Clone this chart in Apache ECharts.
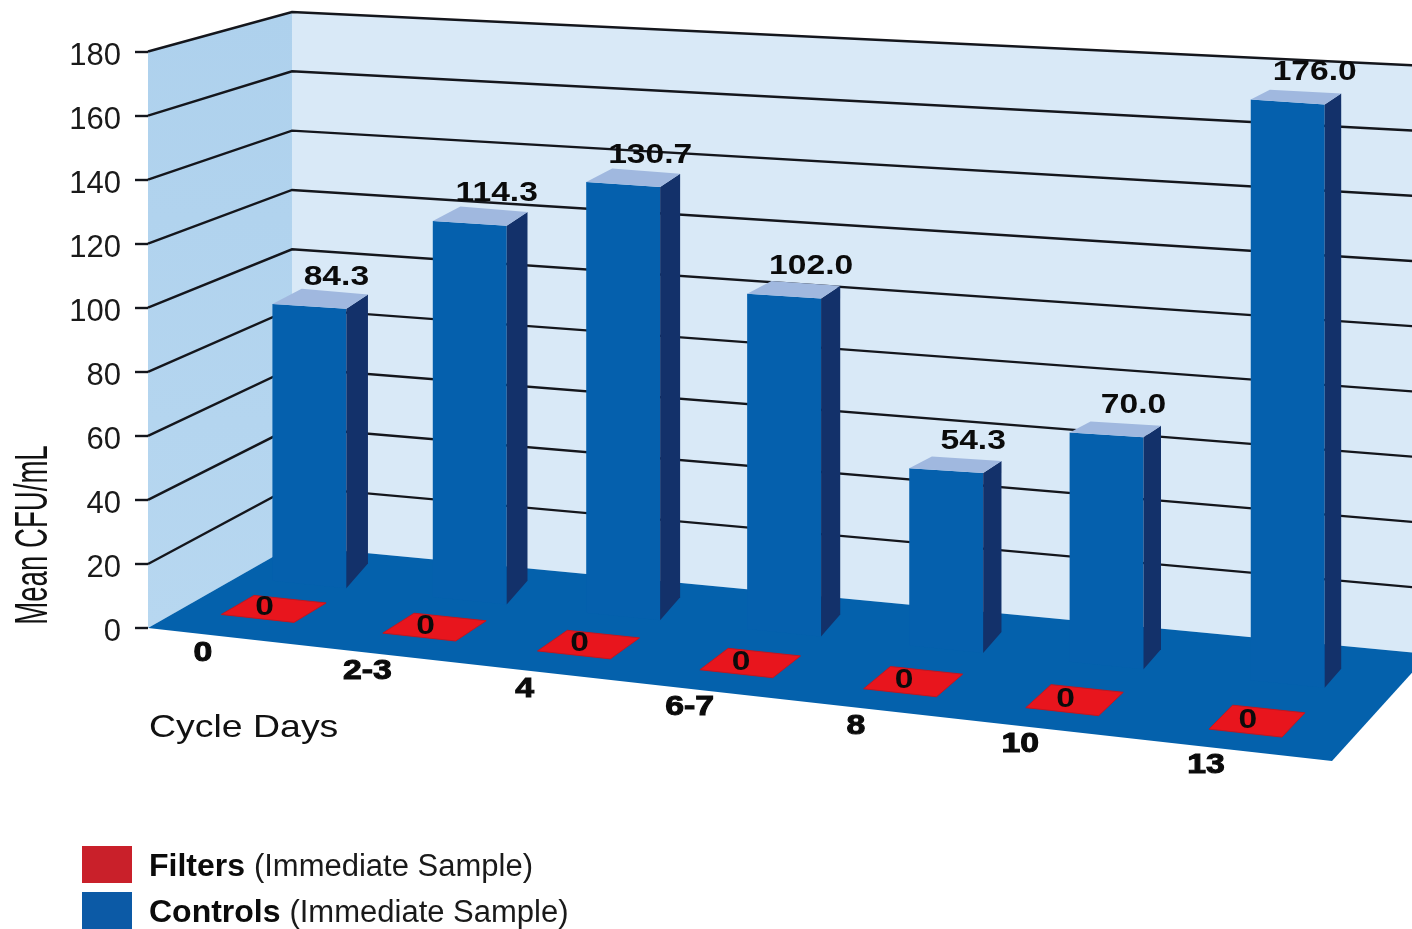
<!DOCTYPE html>
<html>
<head>
<meta charset="utf-8">
<title>Mean CFU/mL by cycle day</title>
<script src="https://cdn.jsdelivr.net/npm/echarts@6/dist/echarts.min.js"></script>
<style>
  html, body { margin: 0; padding: 0; background: #fff; overflow: hidden; }
  #chart { width: 1412px; height: 929px; }
</style>
</head>
<body>
<div id="chart"></div>
<script>
// data
const cycleDays = ['0', '2-3', '4', '6-7', '8', '10', '13'];
const filters = [0, 0, 0, 0, 0, 0, 0];
const controls = [84.3, 114.3, 130.7, 102.0, 54.3, 70.0, 176.0];
const yTicks = [0, 20, 40, 60, 80, 100, 120, 140, 160, 180];

// layout of the fake 3d box, the axes below give the front plane
const GRID = { left: 148, top: 51.5, width: 1184, height: 576.5 };
const BACK_LEFT = [292, 546];
const BACK_RIGHT = [1429, 654];
const FRONT_RIGHT = [1332, 761];
const WALL_H_LEFT = 534;
const WALL_H_RIGHT = 588;
// the original columns are not evenly spaced, fraction of floor width
const bandShift = [-0.009, -0.013, -0.023, -0.0265, -0.029, -0.033, -0.019];
const BAR_DEPTH = 0.62;
const BAR_HALF = 0.032;
const BAR_STRETCH = 1.035;
const FONT = '"Liberation Sans", Arial, sans-serif';

function lerp(a, b, t) { return a + (b - a) * t; }

// u along the front edge, d from front (0) to back wall (1)
function floorPt(api, u, d) {
  const y0 = api.coord([0, 0])[1];
  const fx = lerp(GRID.left, FRONT_RIGHT[0], u), fy = lerp(y0, FRONT_RIGHT[1], u);
  const bx = lerp(BACK_LEFT[0], BACK_RIGHT[0], u), by = lerp(BACK_LEFT[1], BACK_RIGHT[1], u);
  return [lerp(fx, bx, d), lerp(fy, by, d)];
}

function bandU(api, i) {
  return (api.coord([i, 0])[0] - GRID.left) / GRID.width + bandShift[i];
}

function wallPt(u, v) {
  const h = lerp(WALL_H_LEFT, WALL_H_RIGHT, u) * v / 180;
  return [lerp(BACK_LEFT[0], BACK_RIGHT[0], u), lerp(BACK_LEFT[1], BACK_RIGHT[1], u) - h];
}

// point on the outer edge of the side wall, where the y axis sits
function edgePt(api, v) {
  return [GRID.left, api.coord([0, v])[1]];
}

function poly(points, fill, extra) {
  return { type: 'polygon', shape: { points: points }, style: Object.assign({ fill: fill }, extra || {}) };
}

function label(x, y, text, size, scaleX, extra) {
  return {
    type: 'text',
    x: x,
    y: y,
    scaleX: scaleX,
    style: Object.assign({
      text: text,
      x: 0,
      y: 0,
      align: 'center',
      verticalAlign: 'middle',
      font: 'bold ' + size + 'px ' + FONT,
      fill: '#0b0b0b'
    }, extra || {})
  };
}

function renderWalls(params, api) {
  return {
    type: 'group',
    children: [
      poly([edgePt(api, 180), wallPt(0, 180), wallPt(0, 0), edgePt(api, 0)], {
        type: 'linear', x: 0, y: 0, x2: 0, y2: 1,
        colorStops: [{ offset: 0, color: '#aed1ed' }, { offset: 1, color: '#b7d7f0' }]
      }),
      poly([wallPt(0, 180), wallPt(1, 180), wallPt(1, 0), wallPt(0, 0)], '#d9e9f7')
    ]
  };
}

function renderGridLine(params, api) {
  const v = api.value(1);
  if (v === 0) return null;
  return {
    type: 'polyline',
    shape: { points: [edgePt(api, v), wallPt(0, v), wallPt(1, v)] },
    style: { stroke: '#14161c', lineWidth: 2.4, fill: null }
  };
}

function renderFloor(params, api) {
  return poly([floorPt(api, 0, 0), floorPt(api, 1, 0), floorPt(api, 1, 1), floorPt(api, 0, 1)], '#0461ac');
}

function renderBar(params, api) {
  const i = api.value(0);
  const v = api.value(1);
  const u = bandU(api, i);
  const bl = floorPt(api, u - BAR_HALF, BAR_DEPTH);
  const br = floorPt(api, u + BAR_HALF, BAR_DEPTH);
  const h = api.size([0, v])[1] * BAR_STRETCH;
  const w = br[0] - bl[0];
  const tr = [br[0], br[1] - h];
  const tl = [bl[0], tr[1] - w * 0.065];
  const dxR = lerp(22, 16, u), dxL = lerp(30, 18, u);
  const backR = [tr[0] + dxR, tr[1] - dxR * 0.66];
  const backL = [tl[0] + dxL, tl[1] - dxL * 0.52];
  return {
    type: 'group',
    children: [
      poly([tl, tr, br, bl], '#0560ad'),
      poly([tr, backR, [backR[0], br[1] - dxR * 1.15], br], '#13316a'),
      poly([tl, tr, backR, backL], '#a0b8df'),
      label(lerp(bl[0], br[0], 0.5) + 27, tr[1] - 32, v.toFixed(1), 28, 1.2)
    ]
  };
}

function renderTile(params, api) {
  const i = api.value(0);
  const u = bandU(api, i) + 0.004;
  const near = lerp(0.225, 0.15, u), far = near + 0.23;
  const a = floorPt(api, u - 0.031, near);
  const b = floorPt(api, u + 0.031, near);
  const c = floorPt(api, u + 0.031, far);
  const e = floorPt(api, u - 0.031, far);
  const mid = [(a[0] + c[0]) / 2, (a[1] + c[1]) / 2];
  return {
    type: 'group',
    children: [
      poly([a, b, c, e], '#e8151d', { stroke: '#c3161f', lineWidth: 1 }),
      label(mid[0] - 9, mid[1] - 1, String(api.value(1)), 28, 1.2)
    ]
  };
}

function renderDayLabel(params, api) {
  const i = api.value(0);
  const p = floorPt(api, bandU(api, i) - 0.016, 0);
  return label(p[0], p[1] + 19, cycleDays[i], 27, 1.25, { stroke: '#0b0b0b', lineWidth: 1 });
}

const option = {
  animation: false,
  backgroundColor: '#fff',
  grid: GRID,
  legend: {
    left: 82,
    top: 846,
    padding: 0,
    orient: 'vertical',
    itemWidth: 50,
    itemHeight: 37,
    itemGap: 9,
    selectedMode: false,
    icon: 'rect',
    data: [
      { name: 'Filters', itemStyle: { color: '#c9202a' } },
      { name: 'Controls', itemStyle: { color: '#0c5aa6' } }
    ],
    formatter: function (name) { return '{b|' + name + '} {r|(Immediate Sample)}'; },
    textStyle: {
      fontFamily: FONT,
      fontSize: 32,
      rich: {
        b: { fontFamily: FONT, fontWeight: 'bold', fontSize: 32, color: '#0b0b0b', padding: [5, 0, 0, 12] },
        r: { fontFamily: FONT, fontSize: 31, color: '#1a1a1a', padding: [5, 0, 0, 0] }
      }
    }
  },
  xAxis: { type: 'category', data: cycleDays, show: false },
  yAxis: {
    type: 'value',
    min: 0,
    max: 180,
    interval: 20,
    axisLine: { show: false },
    axisTick: { show: true, length: 13, lineStyle: { color: '#14161c', width: 2.4 } },
    splitLine: { show: false },
    axisLabel: { margin: 27, color: '#1a1a1a', fontFamily: FONT, fontSize: 31, verticalAlign: 'top', lineHeight: 9 }
  },
  graphic: [
    {
      type: 'text', x: 34, y: 535, rotation: Math.PI / 2, scaleX: 0.6,
      style: { text: 'Mean CFU/mL', x: 0, y: 0, align: 'center', verticalAlign: 'middle', font: '46px ' + FONT, fill: '#111' }
    },
    {
      type: 'text', x: 149, y: 728, scaleX: 1.17,
      style: { text: 'Cycle Days', x: 0, y: 0, align: 'left', verticalAlign: 'middle', font: '32px ' + FONT, fill: '#111' }
    }
  ],
  series: [
    { type: 'custom', name: 'walls', silent: true, z: 1, renderItem: renderWalls, data: [[0, 0]] },
    { type: 'custom', name: 'gridlines', silent: true, z: 2, renderItem: renderGridLine, data: yTicks.map(function (v) { return [0, v]; }) },
    { type: 'custom', name: 'floor', silent: true, z: 3, renderItem: renderFloor, data: [[0, 0]] },
    { type: 'custom', name: 'Controls', z: 4, renderItem: renderBar, itemStyle: { color: '#0c5aa6' }, data: controls.map(function (v, i) { return [i, v]; }) },
    { type: 'custom', name: 'Filters', z: 5, renderItem: renderTile, itemStyle: { color: '#c9202a' }, data: filters.map(function (v, i) { return [i, v]; }) },
    { type: 'custom', name: 'days', silent: true, z: 6, renderItem: renderDayLabel, data: cycleDays.map(function (d, i) { return [i, 0]; }) }
  ]
};

var myChart = echarts.init(document.getElementById('chart'));
myChart.setOption(option);
window.addEventListener('resize', function () { myChart.resize(); });
</script>
</body>
</html>
